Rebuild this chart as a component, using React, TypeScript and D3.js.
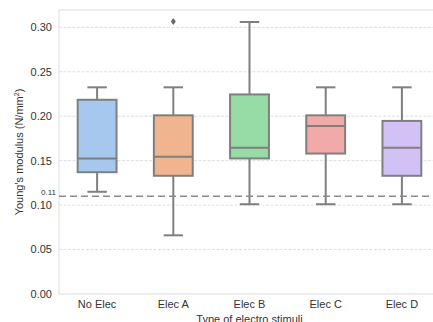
import React, { useEffect, useRef } from "react";
import * as d3 from "d3";

const categories = ["No Elec", "Elec A", "Elec B", "Elec C", "Elec D"];
const whiskerLow = [0.115, 0.066, 0.101, 0.101, 0.101];
const q1 = [0.137, 0.133, 0.1525, 0.158, 0.133];
const median = [0.1525, 0.1545, 0.1645, 0.189, 0.1645];
const q3 = [0.2185, 0.201, 0.2245, 0.201, 0.1947];
const whiskerHigh = [0.2325, 0.2325, 0.306, 0.2325, 0.2325];
const outliers = [[], [0.3065], [], [], []];
const colors = ["#a7c8ee", "#f0b48e", "#97dba7", "#f2aaa8", "#d2c1f5"];
const yTicks = [0, 0.05, 0.1, 0.15, 0.2, 0.25, 0.3];
const threshold = 0.11;

export default function App() {
  const ref = useRef<SVGSVGElement>(null);

  useEffect(() => {
    const svg = d3.select(ref.current);
    svg.selectAll("*").remove();
    const margin = { top: 10, right: -7, bottom: 28, left: 59 };
    const W = 433, H = 322;
    const w = W - margin.left - margin.right;
    const h = H - margin.top - margin.bottom;

    const x = d3.scaleBand().domain(categories).range([0, w]);
    const y = d3.scaleLinear().domain([0, 0.3195]).range([h, 0]);

    const g = svg.append("g").attr("transform", `translate(${margin.left},${margin.top})`);

    // grid
    g.selectAll(".grid")
      .data(yTicks.filter(d => d > 0))
      .join("line")
      .attr("x1", 0).attr("x2", w)
      .attr("y1", d => y(d)).attr("y2", d => y(d))
      .attr("stroke", "#d4d4d4")
      .attr("stroke-width", 0.8)
      .attr("stroke-dasharray", "3,1.5");

    // frame
    g.append("rect")
      .attr("x", 0).attr("y", 0).attr("width", w).attr("height", h)
      .attr("fill", "none").attr("stroke", "#e3e3e3").attr("stroke-width", 1.2);

    // y ticks
    g.selectAll(".ytick")
      .data(yTicks)
      .join("text")
      .attr("x", -7)
      .attr("y", d => y(d))
      .attr("dy", "0.35em")
      .attr("text-anchor", "end")
      .attr("font-size", 11)
      .attr("fill", "#333")
      .text(d => d3.format(".2f")(d));

    // x ticks
    g.selectAll(".xtick")
      .data(categories)
      .join("text")
      .attr("x", d => x(d)! + x.bandwidth() / 2)
      .attr("y", h + 14)
      .attr("text-anchor", "middle")
      .attr("font-size", 11)
      .attr("fill", "#333")
      .text(d => d);

    const data = categories.map((c, i) => ({
      c, lo: whiskerLow[i], q1: q1[i], med: median[i], q3: q3[i], hi: whiskerHigh[i],
      out: outliers[i], color: colors[i],
    }));
    const bw = x.bandwidth() * 0.51;
    const cap = bw * 0.5;
    const line = "#7f7f7f";

    const box = g.selectAll(".box").data(data).join("g")
      .attr("transform", d => `translate(${x(d.c)! + x.bandwidth() / 2},0)`);

    box.append("line").attr("x1", 0).attr("x2", 0)
      .attr("y1", d => y(d.lo)).attr("y2", d => y(d.q1))
      .attr("stroke", line).attr("stroke-width", 2);
    box.append("line").attr("x1", 0).attr("x2", 0)
      .attr("y1", d => y(d.q3)).attr("y2", d => y(d.hi))
      .attr("stroke", line).attr("stroke-width", 2);
    box.append("line").attr("x1", -cap / 2).attr("x2", cap / 2)
      .attr("y1", d => y(d.lo)).attr("y2", d => y(d.lo))
      .attr("stroke", line).attr("stroke-width", 2);
    box.append("line").attr("x1", -cap / 2).attr("x2", cap / 2)
      .attr("y1", d => y(d.hi)).attr("y2", d => y(d.hi))
      .attr("stroke", line).attr("stroke-width", 2);
    box.append("rect")
      .attr("x", -bw / 2).attr("width", bw)
      .attr("y", d => y(d.q3)).attr("height", d => y(d.q1) - y(d.q3))
      .attr("fill", d => d.color).attr("stroke", line).attr("stroke-width", 2);
    box.append("line").attr("x1", -bw / 2).attr("x2", bw / 2)
      .attr("y1", d => y(d.med)).attr("y2", d => y(d.med))
      .attr("stroke", line).attr("stroke-width", 2);
    box.selectAll(".out").data(d => d.out).join("path")
      .attr("transform", d => `translate(0,${y(d)})`)
      .attr("d", "M0,-3.5L2.5,0L0,3.5L-2.5,0Z")
      .attr("fill", "#6b6b6b");

    // threshold line
    g.append("line")
      .attr("x1", 0).attr("x2", w)
      .attr("y1", y(threshold)).attr("y2", y(threshold))
      .attr("stroke", "#8a8a8a").attr("stroke-width", 1.6)
      .attr("stroke-dasharray", "7,4");
    g.append("text")
      .attr("x", -3).attr("y", y(threshold) - 1)
      .attr("text-anchor", "end")
      .attr("font-size", 8)
      .attr("fill", "#333")
      .text("0.11");

    // axis titles
    svg.append("text")
      .attr("transform", `translate(23,${margin.top + h / 2}) rotate(-90)`)
      .attr("text-anchor", "middle")
      .attr("font-size", 11)
      .attr("fill", "#333")
      .html('Young\'s modulus (N/mm<tspan dy="-4" font-size="7">2</tspan><tspan dy="4">)</tspan>');
    svg.append("text")
      .attr("x", margin.left + w / 2)
      .attr("y", H + 1)
      .attr("text-anchor", "middle")
      .attr("font-size", 11)
      .attr("fill", "#333")
      .text("Type of electro stimuli");
  }, []);

  return (
    <svg ref={ref} width={433} height={322}
      style={{ position: "absolute", left: 0, top: 0, fontFamily: "'Liberation Sans', Arial, sans-serif", background: "#fff" }} />
  );
}
